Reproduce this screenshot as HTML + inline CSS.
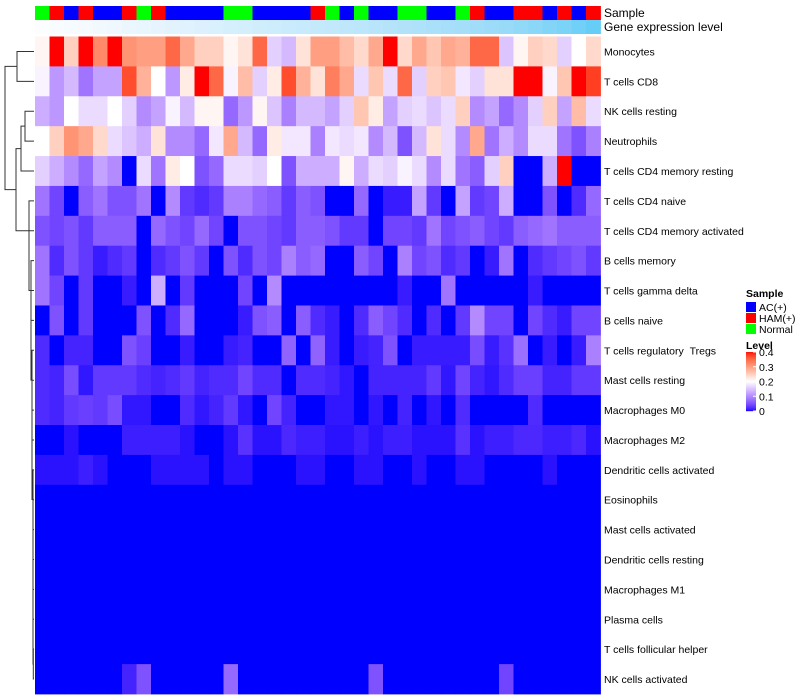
<!DOCTYPE html>
<html><head><meta charset="utf-8"><style>
body{margin:0;background:#fff;}
svg{display:block;font-family:"Liberation Sans",Arial,sans-serif;}
</style></head><body>
<svg id="chart" width="800" height="700" viewBox="0 0 800 700"></svg>
<script>
const rowNames=["Monocytes","T cells CD8","NK cells resting","Neutrophils","T cells CD4 memory resting","T cells CD4 naive","T cells CD4 memory activated","B cells memory","T cells gamma delta","B cells naive","T cells regulatory \u00a0Tregs","Mast cells resting","Macrophages M0","Macrophages M2","Dendritic cells activated","Eosinophils","Mast cells activated","Dendritic cells resting","Macrophages M1","Plasma cells","T cells follicular helper","NK cells activated"];
const sampleGroups=["N","H","A","H","A","A","H","N","H","A","A","A","A","N","N","A","A","A","A","H","N","A","N","A","A","N","N","A","A","N","H","A","A","H","H","A","H","A","H"];
const geneLevel=[0.0,0.02,0.04,0.06,0.08,0.1,0.12,0.14,0.16,0.18,0.2,0.22,0.24,0.26,0.28,0.3,0.32,0.34,0.36,0.38,0.4,0.42,0.44,0.46,0.48,0.5,0.52,0.54,0.56,0.58,0.6,0.62,0.65,0.68,0.72,0.76,0.8,0.85,0.9];
const r01=[0.21,0.4,0.25,0.4,0.32,0.4,0.31,0.3,0.3,0.35,0.29,0.25,0.25,0.21,0.23,0.35,0.16,0.14,0.23,0.3,0.3,0.27,0.24,0.29,0.4,0.24,0.29,0.26,0.29,0.28,0.35,0.35,0.15,0.21,0.25,0.24,0.16,0.2,0.24];
const r02=[0.19,0.11,0.14,0.08,0.12,0.12,0.37,0.28,0.2,0.11,0.22,0.4,0.35,0.19,0.27,0.16,0.22,0.37,0.28,0.23,0.33,0.29,0.17,0.26,0.17,0.35,0.16,0.25,0.26,0.18,0.16,0.23,0.23,0.4,0.4,0.19,0.26,0.4,0.38];
const r03=[0.13,0.11,0.2,0.17,0.17,0.2,0.16,0.1,0.12,0.19,0.14,0.21,0.21,0.07,0.11,0.21,0.15,0.09,0.14,0.14,0.12,0.16,0.26,0.22,0.12,0.16,0.17,0.15,0.17,0.25,0.1,0.12,0.07,0.1,0.16,0.25,0.12,0.27,0.17];
const r04=[0.2,0.25,0.31,0.29,0.24,0.17,0.15,0.13,0.23,0.1,0.1,0.07,0.18,0.29,0.14,0.07,0.22,0.18,0.18,0.09,0.18,0.17,0.18,0.1,0.14,0.05,0.14,0.23,0.17,0.1,0.29,0.08,0.13,0.1,0.17,0.17,0.08,0.05,0.09];
const r05=[0.16,0.13,0.1,0.07,0.12,0.1,0,0.17,0.08,0.22,0.2,0.05,0.07,0.17,0.17,0.16,0.2,0.05,0.13,0.13,0.13,0.21,0.13,0.17,0.16,0.19,0.17,0.1,0.17,0.08,0.06,0.16,0.25,0,0,0.13,0.4,0,0];
const r06=[0.08,0.04,0,0.06,0.08,0.05,0.05,0.08,0,0.1,0.03,0.02,0.03,0.09,0.09,0.07,0.06,0.03,0.06,0.05,0,0,0.07,0,0.01,0.01,0.12,0.03,0,0.12,0.03,0.04,0.13,0,0,0.05,0,0.02,0.07];
const r07=[0.05,0.04,0.05,0.03,0.06,0.06,0.06,0,0.07,0.05,0.04,0.07,0.04,0,0.05,0.05,0.04,0.03,0.06,0.06,0.05,0.03,0.03,0,0.04,0.04,0.03,0.08,0.04,0.05,0.06,0.04,0.03,0.06,0.07,0.08,0.06,0.06,0.06];
const r08=[0.08,0.02,0.05,0.03,0.01,0.02,0.03,0,0.02,0.03,0.05,0.03,0,0.05,0.02,0.05,0.04,0.09,0.06,0.07,0,0,0.06,0.04,0,0.09,0.04,0.05,0.02,0.03,0,0.01,0.08,0,0.02,0.03,0.04,0.05,0.03];
const r09=[0.08,0.04,0,0.03,0,0,0.01,0,0.13,0,0.03,0,0,0,0.04,0,0.1,0,0,0,0,0,0,0,0,0.01,0,0,0.08,0,0,0,0,0,0.01,0,0,0,0];
const r10=[0,0.05,0,0.03,0,0,0,0.05,0,0.02,0.07,0,0,0,0.01,0.05,0.06,0,0.06,0.02,0.01,0,0.02,0.06,0.04,0.02,0,0.02,0,0.03,0.1,0.04,0.04,0,0.04,0.02,0.01,0.04,0.04];
const r11=[0.02,0,0.015,0.015,0,0,0.05,0.035,0,0,0.01,0,0,0.01,0.015,0,0,0.065,0,0.065,0.01,0,0.01,0.015,0.05,0,0.01,0.01,0.01,0.01,0.045,0.01,0.025,0.075,0,0.01,0,0.01,0.09];
const r12=[0.02,0.015,0.045,0.008,0.03,0.03,0.03,0.02,0.015,0.02,0.03,0.015,0.02,0.02,0.04,0.02,0.02,0,0.02,0.02,0.015,0.008,0,0.015,0.015,0.015,0.015,0.03,0.008,0.04,0.015,0.008,0.02,0.035,0.035,0.015,0.015,0.03,0.03];
const r13=[0.02,0.015,0.03,0.035,0.03,0.045,0.008,0.008,0,0,0.02,0.008,0.015,0.03,0.008,0,0.04,0.015,0,0,0.008,0.008,0,0.008,0,0.015,0,0.008,0,0.02,0,0,0,0,0.02,0,0,0,0];
const r14=[0,0,0.006,0,0,0,0.012,0.012,0.012,0.012,0.006,0,0,0.006,0.025,0.006,0.006,0.018,0.012,0.012,0.006,0.006,0.012,0.006,0.012,0.012,0.006,0.006,0.006,0.025,0.006,0.012,0.012,0.018,0.018,0.012,0.012,0.018,0.006];
const r15=[0.006,0.006,0.006,0.012,0.006,0,0,0,0.006,0.006,0.006,0.006,0,0.006,0.006,0,0,0,0.006,0.006,0,0,0.006,0.006,0,0,0.006,0,0,0.006,0.006,0,0,0,0,0.006,0,0,0];
const r16=[0,0,0,0,0,0,0,0,0,0,0,0,0,0,0,0,0,0,0,0,0,0,0,0,0,0,0,0,0,0,0,0,0,0,0,0,0,0,0];
const r17=[0,0,0,0,0,0,0,0,0,0,0,0,0,0,0,0,0,0,0,0,0,0,0,0,0,0,0,0,0,0,0,0,0,0,0,0,0,0,0];
const r18=[0,0,0,0,0,0,0,0,0,0,0,0,0,0,0,0,0,0,0,0,0,0,0,0,0,0,0,0,0,0,0,0,0,0,0,0,0,0,0];
const r19=[0,0,0,0,0,0,0,0,0,0,0,0,0,0,0,0,0,0,0,0,0,0,0,0,0,0,0,0,0,0,0,0,0,0,0,0,0,0,0];
const r20=[0,0,0,0,0,0,0,0,0,0,0,0,0,0,0,0,0,0,0,0,0,0,0,0,0,0,0,0,0,0,0,0,0,0,0,0,0,0,0];
const r21=[0,0,0,0,0,0,0,0,0,0,0,0,0,0,0,0,0,0,0,0,0,0,0,0,0,0,0,0,0,0,0,0,0,0,0,0,0,0,0];
const r22=[0,0,0,0,0,0,0.015,0.05,0,0,0,0,0,0.07,0,0,0,0,0,0,0,0,0,0.05,0,0,0,0,0,0,0,0,0.04,0,0,0,0,0,0];
const matrix=[r01,r02,r03,r04,r05,r06,r07,r08,r09,r10,r11,r12,r13,r14,r15,r16,r17,r18,r19,r20,r21,r22];
const levelTicks=[0,0.1,0.2,0.3,0.4];

const NS="http://www.w3.org/2000/svg";
const svg=document.getElementById('chart');
function mk(t,a,p){const e=document.createElementNS(NS,t);for(const k in a)e.setAttribute(k,a[k]);(p||svg).appendChild(e);return e;}
function s2l(c){c/=255;return c<=0.04045?c/12.92:Math.pow((c+0.055)/1.055,2.4);}
function l2s(c){c=c<=0.0031308?12.92*c:1.055*Math.pow(c,1/2.4)-0.055;return Math.max(0,Math.min(255,Math.round(c*255)));}
function toLab(rgb){const r=s2l(rgb[0]),g=s2l(rgb[1]),b=s2l(rgb[2]);
 let x=(r*0.4124+g*0.3576+b*0.1805)/0.95047,y=(r*0.2126+g*0.7152+b*0.0722),z=(r*0.0193+g*0.1192+b*0.9505)/1.08883;
 const f=t=>t>0.008856?Math.cbrt(t):7.787*t+16/116;x=f(x);y=f(y);z=f(z);return[116*y-16,500*(x-y),200*(y-z)];}
function fromLab(l){let y=(l[0]+16)/116,x=l[1]/500+y,z=y-l[2]/200;
 const fi=t=>t*t*t>0.008856?t*t*t:(t-16/116)/7.787;x=fi(x)*0.95047;y=fi(y);z=fi(z)*1.08883;
 const r=x*3.2406+y*-1.5372+z*-0.4986,g=x*-0.9689+y*1.8758+z*0.0415,b=x*0.0557+y*-0.2040+z*1.0570;
 return 'rgb('+l2s(r)+','+l2s(g)+','+l2s(b)+')';}
function ramp(stops,cols){const labs=cols.map(toLab);return v=>{if(v<=stops[0])return fromLab(labs[0]);
 for(let i=1;i<stops.length;i++){if(v<=stops[i]){const t=(v-stops[i-1])/(stops[i]-stops[i-1]);const a=labs[i-1],b=labs[i];return fromLab([a[0]+(b[0]-a[0])*t,a[1]+(b[1]-a[1])*t,a[2]+(b[2]-a[2])*t]);}}
 return fromLab(labs[labs.length-1]);};}
const levelColor=ramp([0,0.2,0.4],[[0,0,255],[255,255,255],[255,0,0]]);
const geneColor=ramp([0,1],[[252,253,255],[72,200,245]]);
const groupColor={A:'#0000ff',H:'#ff0000',N:'#00ff00'};

const X0=35,X1=600.5,Y0=36.5,Y1=694;
const nC=sampleGroups.length,nR=rowNames.length;
const cw=(X1-X0)/nC,rh=(Y1-Y0)/nR;
const xPos=i=>X0+i*cw, yPos=j=>Y0+j*rh;

const annG=mk('g',{});


sampleGroups.forEach((g,i)=>{const r=mk('rect',{x:xPos(i),y:6,width:cw+0.4,height:14,fill:groupColor[g]},annG);
 
 });
const geneG=mk('g',{});


geneLevel.forEach((v,i)=>{const r=mk('rect',{x:xPos(i),y:20,width:cw+0.4,height:14,fill:geneColor(v)},geneG);
 
 });
const t1=mk('text',{x:604,y:17,'font-size':12,fill:'#000'});t1.textContent='Sample';


const t2=mk('text',{x:604,y:31,'font-size':12,fill:'#000'});t2.textContent='Gene expression level';



const hm=mk('g',{});


matrix.forEach((row,j)=>{row.forEach((v,i)=>{const r=mk('rect',{x:xPos(i),y:yPos(j),width:cw+0.4,height:rh+0.4,fill:levelColor(v)},hm);
 
 });
 const t=mk('text',{x:604,y:yPos(j)+rh/2+4,'font-size':10.5,fill:'#000'});t.textContent=rowNames[j];
 
 });

const yc=j=>yPos(j)+rh/2;
const dg=mk('g',{stroke:'#333','stroke-width':1,fill:'none'});


function link(xn,ya,xa,yb,xb){mk('path',{d:`M${xa},${ya}H${xn}V${yb}H${xb}`},dg);}
const L=34;
link(17,yc(0),L,yc(1),L);
const yA=(yc(0)+yc(1))/2;
link(25,yc(2),L,yc(3),L);
const y23=(yc(2)+yc(3))/2;
link(21,y23,25,yc(4),L);
const yC=(y23+yc(4))/2;
let prevY,prevX=33.5;
link(33.3,yc(20),L,yc(21),L);prevY=(yc(20)+yc(21))/2;
for(let j=19;j>=5;j--){const xn=j>=14?33:(j>=10?32:(j>=7?31:29));link(xn,yc(j),L,prevY,prevX);prevY=(yc(j)+prevY)/2;prevX=xn;}
const yD=prevY;
link(16,yC,21,yD,prevX);
const yB=(yC+yD)/2;
link(5,yA,17,yB,16);

const lg=mk('g',{});


const lt=mk('text',{x:746,y:297,'font-size':10.5,'font-weight':'bold'},lg);lt.textContent='Sample';


[['A','AC(+)'],['H','HAM(+)'],['N','Normal']].forEach((e,k)=>{
 const g=mk('g',{},lg);
 
 
 mk('rect',{x:746,y:302+k*11,width:10,height:10,fill:groupColor[e[0]]},g);
 const t=mk('text',{x:759,y:311+k*11,'font-size':10.5},g);t.textContent=e[1];});
const lv=mk('text',{x:746,y:349,'font-size':10.5,'font-weight':'bold'},lg);lv.textContent='Level';


const cbTop=352,cbBot=411;
const cb=mk('g',{},lg);


for(let k=0;k<59;k++){const v=0.4-0.4*(k+0.5)/59;mk('rect',{x:746,y:cbTop+k,width:10,height:1.2,fill:levelColor(v)},cb);}
levelTicks.forEach(v=>{const y=cbBot-(v/0.4)*(cbBot-cbTop);
 mk('line',{x1:753,x2:756,y1:y,y2:y,stroke:'#fff','stroke-width':1},cb);
 const t=mk('text',{x:759,y:y+4,'font-size':10.5},cb);t.textContent=String(v);
 
 });
</script>
</body></html>
